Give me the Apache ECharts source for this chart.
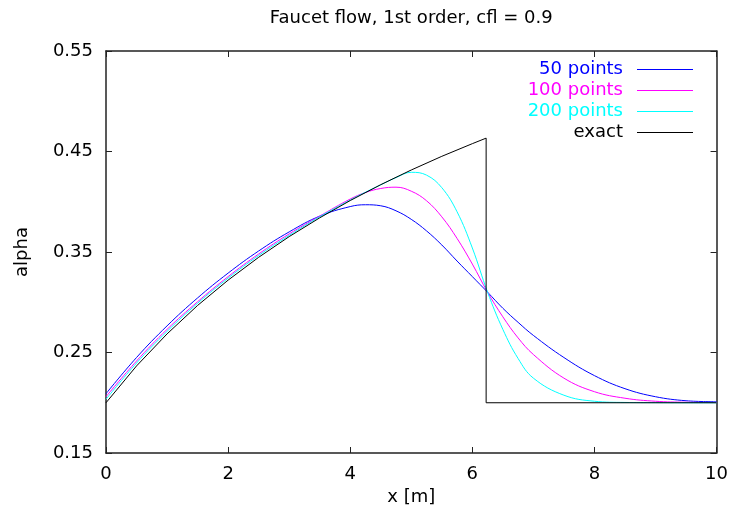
<!DOCTYPE html>
<html>
<head>
<meta charset="utf-8">
<script src="https://cdn.jsdelivr.net/npm/echarts@6/dist/echarts.min.js"></script>
<style>
  html, body { margin: 0; padding: 0; background: #fff; }
  #chart { width: 731px; height: 521px; }
</style>
</head>
<body>
<div id="chart"></div>
<script>
// x positions of the numerical solutions [m]
const xNum = [0, 0.5, 1, 1.5, 2, 2.5, 3, 3.5, 4, 4.25, 4.5, 4.75, 5, 5.25, 5.5, 5.75,
  6, 6.25, 6.5, 6.75, 7, 7.5, 8, 8.5, 9, 9.5, 10];
const pts50 = [0.209, 0.245, 0.2765, 0.3043, 0.329, 0.351, 0.370, 0.3857, 0.3952, 0.397, 0.396, 0.391,
  0.3825, 0.371, 0.357, 0.341, 0.3255, 0.310, 0.294, 0.280, 0.267, 0.245, 0.227, 0.214, 0.206, 0.202, 0.201];
const pts100 = [0.206, 0.2415, 0.273, 0.3005, 0.3255, 0.348, 0.368, 0.3857, 0.4027, 0.4092, 0.4132, 0.4145,
  0.4105, 0.401, 0.385, 0.3635, 0.338, 0.310, 0.2855, 0.2645, 0.248, 0.2245, 0.211, 0.2045, 0.2015, 0.2005, 0.2002];
const pts200 = [0.2035, 0.2395, 0.271, 0.299, 0.324, 0.3465, 0.3665, 0.385, 0.4017, 0.4095, 0.4168, 0.424,
  0.4293, 0.4265, 0.414, 0.390, 0.354, 0.310, 0.273, 0.244, 0.2245, 0.2075, 0.2015, 0.2003, 0.2001, 0.200, 0.200];
// exact solution, with the jump at the front
const xExact = [0, 0.5, 1, 1.5, 2, 2.5, 3, 3.5, 4, 4.5, 5, 5.5, 6, 6.226, 6.226, 10];
const yExact = [0.2, 0.2366, 0.2685, 0.2968, 0.322, 0.3447, 0.3653, 0.384, 0.4012, 0.417, 0.4316,
  0.4452, 0.4578, 0.4633, 0.2, 0.2];

const seriesNames = ["50 points", "100 points", "200 points", "exact"];
const seriesColors = ["#0000ff", "#ff00ff", "#00ffff", "#000000"];

const font = "DejaVu Sans";
const axisColor = "#222";

function pairs(xs, ys) {
  return xs.map((x, i) => [x, ys[i]]);
}

const chart = echarts.init(document.getElementById("chart"));

const frameAxis = {
  axisLine: { show: true, onZero: false, lineStyle: { color: axisColor, width: 1.5 } },
  axisTick: { show: true, inside: true, length: 6, lineStyle: { color: axisColor, width: 1 } },
  splitLine: { show: false }
};

const numSeries = [pts50, pts100, pts200].map((ys, i) => ({
  name: seriesNames[i],
  type: "line",
  data: pairs(xNum, ys),
  symbol: "none",
  smooth: 0.4,
  lineStyle: { color: seriesColors[i], width: 1 },
  itemStyle: { color: seriesColors[i] },
  z: 2 + i
}));

const option = {
  animation: false,
  grid: { left: 106, right: 12, top: 51, bottom: 68 },
  legend: {
    orient: "vertical",
    align: "right",
    right: 38,
    top: 60.5,
    padding: 0,
    icon: "rect",
    itemWidth: 56,
    itemHeight: 1,
    itemGap: 3,
    data: seriesNames.map((n, i) => ({
      name: n,
      textStyle: { color: seriesColors[i] }
    })),
    textStyle: { fontFamily: font, fontSize: 18, padding: [0, 9, 0, 0] }
  },
  xAxis: [
    Object.assign({
      type: "value", min: 0, max: 10, interval: 2, position: "bottom",
      name: "x [m]", nameLocation: "middle", nameGap: 31,
      nameTextStyle: { fontFamily: font, fontSize: 18, color: "#000" },
      axisLabel: { fontFamily: font, fontSize: 18, color: "#000", margin: 12 }
    }, frameAxis),
    Object.assign({
      type: "value", min: 0, max: 10, interval: 2, position: "top",
      name: "Faucet flow, 1st order, cfl = 0.9", nameLocation: "middle", nameGap: 24,
      nameTextStyle: { fontFamily: font, fontSize: 18, color: "#000" },
      axisLabel: { show: false }
    }, frameAxis)
  ],
  yAxis: [
    Object.assign({
      type: "value", min: 0.15, max: 0.55, interval: 0.1, position: "left",
      name: "alpha", nameLocation: "middle", nameGap: 75,
      nameTextStyle: { fontFamily: font, fontSize: 18, color: "#000" },
      axisLabel: { fontFamily: font, fontSize: 18, color: "#000", margin: 13,
        formatter: v => v.toFixed(2) }
    }, frameAxis),
    Object.assign({
      type: "value", min: 0.15, max: 0.55, interval: 0.1, position: "right",
      axisLabel: { show: false }
    }, frameAxis)
  ],
  series: numSeries.concat([{
    name: seriesNames[3],
    type: "line",
    data: pairs(xExact, yExact),
    symbol: "none",
    lineStyle: { color: seriesColors[3], width: 1 },
    itemStyle: { color: seriesColors[3] },
    z: 6
  }])
};

chart.setOption(option);
window.addEventListener("resize", () => chart.resize());
</script>
</body>
</html>
